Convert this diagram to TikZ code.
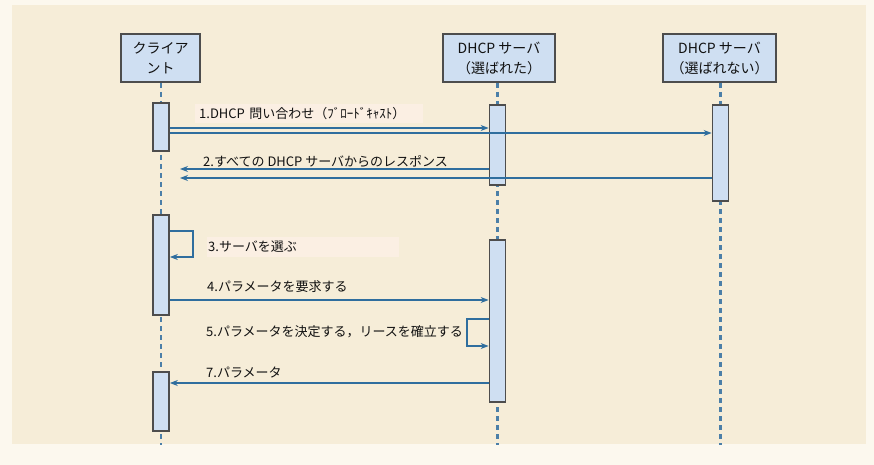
\documentclass[tikz,border=0pt]{standalone}
\usepackage{fontspec}
\setmainfont{Noto Sans CJK JP}
\usetikzlibrary{arrows.meta}
\definecolor{bgc}{HTML}{F6EDD8}
\definecolor{outerc}{HTML}{FCF8EE}
\definecolor{boxfill}{HTML}{CFDFF2}
\definecolor{boxline}{HTML}{4D4D4D}
\definecolor{arrc}{HTML}{2F6E9E}
\definecolor{lifec}{HTML}{4B7FA8}
\definecolor{lblbg}{HTML}{FBEFE3}
\definecolor{txt}{HTML}{111111}
\begin{document}
\begin{tikzpicture}[x=1pt,y=-1pt,
 head/.style={draw=boxline, line width=2pt, fill=boxfill, minimum height=48pt, align=center, font=\fontsize{14}{20}\selectfont, inner sep=0pt, text=txt},
 actbar/.style={draw=boxline, line width=1.7pt, fill=boxfill, minimum width=16pt, inner sep=0pt, anchor=north},
 msg/.style={draw=arrc, line width=2.2pt, -{Stealth[length=8pt,width=6pt]}},
 lifeline/.style={draw=lifec, line width=2.3pt, dash pattern=on 5pt off 4pt},
 lbl/.style={font=\fontsize{13}{15}\selectfont, anchor=west, inner sep=1pt, text=txt}
]
\fill[outerc] (0,0) rectangle (874,465);
\fill[bgc] (12,5) rectangle (866,444);

% headers
\node[head, minimum width=79pt] (cl) at (160.5,58) {クライア\\ント};
\node[head, minimum width=112pt] (sv) at (499,58) {DHCP サーバ\\（選ばれた）};
\node[head, minimum width=113pt] (ns) at (719.5,58) {DHCP サーバ\\（選ばれない）};

% lifelines
\coordinate (clend) at (161,445);
\coordinate (svend) at (497.5,445);
\coordinate (nsend) at (720.5,445);
\draw[lifeline] (cl.south -| clend) -- (clend);
\draw[lifeline] (sv.south -| svend) -- (svend);
\draw[lifeline] (ns.south -| nsend) -- (nsend);

% activation bars
\node[actbar, minimum height=48pt] (c1) at (161,102) {};
\node[actbar, minimum height=100pt] (c2) at (161,214) {};
\node[actbar, minimum height=59pt] (c3) at (161,371) {};
\node[actbar, minimum height=80pt] (s1) at (497.5,104) {};
\node[actbar, minimum height=162pt] (s2) at (497.5,239) {};
\node[actbar, minimum height=96pt] (n1) at (720.5,104) {};

% labels
\node[lbl, fill=lblbg, text width=220pt, inner xsep=4pt, minimum height=19pt] (l1) at (195,113.5) {1.DHCP 問い合わせ（ﾌﾞﾛｰﾄﾞｷｬｽﾄ）};
\node[lbl] (l2) at (202,161) {2.すべての DHCP サーバからのレスポンス};
\node[lbl, fill=lblbg, text width=190pt, inner xsep=1pt, minimum height=20pt] (l3) at (207,247) {3.サーバを選ぶ};
\node[lbl] (l4) at (206,287) {4.パラメータを要求する};
\node[lbl] (l5) at (205,332) {5.パラメータを決定する，リースを確立する};
\node[lbl] (l7) at (205,372) {7.パラメータ};

% messages
\draw[msg] (c1.east |- 0,128) -- (s1.west |- 0,128);
\draw[msg] (c1.east |- 0,133) -- (n1.west |- 0,133);
\coordinate (r2a) at (180,169);
\coordinate (r2b) at (180,178);
\draw[msg] (s1.west |- r2a) -- (r2a);
\draw[msg] (n1.west |- r2b) -- (r2b);
\draw[msg] (c2.east |- 0,231) -- (193,231) -- (193,257) -- (c2.east |- 0,257);
\draw[msg] (c2.east |- 0,300) -- (s2.west |- 0,300);
\draw[msg] (s2.west |- 0,319) -- (467,319) -- (467,346) -- (s2.west |- 0,346);
\draw[msg] (s2.west |- 0,383) -- (c3.east |- 0,383);
\end{tikzpicture}
\end{document}
